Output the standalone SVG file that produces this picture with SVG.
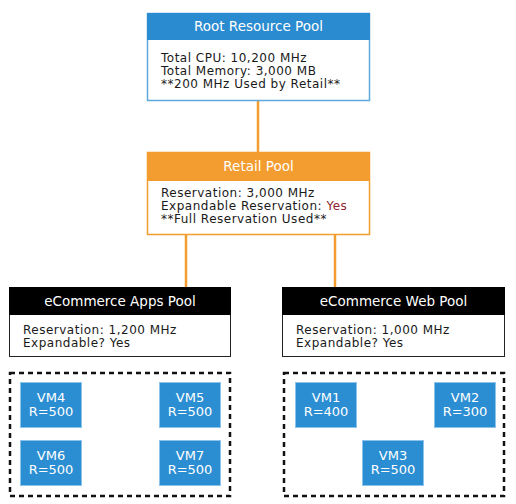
<svg xmlns="http://www.w3.org/2000/svg" width="516" height="504" viewBox="0 0 516 504">
<style>
text { font-family: "DejaVu Sans", "Liberation Sans", sans-serif; }
.hdr { font-size: 13.5px; fill: #ffffff; text-anchor: middle; }
.body { font-size: 12px; letter-spacing: 0.5px; fill: #1a1a1a; }
.vm { font-size: 13px; fill: #ffffff; text-anchor: middle; }
.conn { stroke: #F39C2F; stroke-width: 2.5; fill: none; }
.dash { stroke: #111; stroke-width: 2.5; fill: none; stroke-dasharray: 5 4; }
.vmbox { fill: #2B8ED2; stroke: #8CC3EA; stroke-width: 1; }
</style>
<rect width="516" height="504" fill="#ffffff"/>
<g id="connectors">
<line class="conn" x1="258" y1="100" x2="258" y2="153"/>
<line class="conn" x1="186" y1="235" x2="186" y2="288"/>
<line class="conn" x1="335" y1="235" x2="335" y2="288"/>
</g>
<g id="root">
<rect x="147.5" y="13.5" width="222" height="87" fill="#ffffff" stroke="#5FA8DE" stroke-width="1.5"/>
<rect x="147" y="13" width="223" height="27" fill="#2A8BD0"/>
<text class="hdr" x="258.5" y="31">Root Resource Pool</text>
<text class="body" x="161" y="62">Total CPU: 10,200 MHz</text>
<text class="body" x="161" y="75">Total Memory: 3,000 MB</text>
<text class="body" x="161" y="88">**200 MHz Used by Retail**</text>
</g>
<g id="retail">
<rect x="147.5" y="152.5" width="222" height="82" fill="#ffffff" stroke="#F39C2F" stroke-width="1.5"/>
<rect x="147" y="152" width="223" height="29" fill="#F39C2F"/>
<text class="hdr" x="258.5" y="171">Retail Pool</text>
<text class="body" x="161" y="197">Reservation: 3,000 MHz</text>
<text class="body" x="161" y="210">Expandable Reservation: <tspan fill="#8E1F2F">Yes</tspan></text>
<text class="body" x="161" y="223">**Full Reservation Used**</text>
</g>
<g id="apps-pool">
<rect x="9.5" y="287.5" width="221" height="69" fill="#ffffff" stroke="#222" stroke-width="1"/>
<rect x="9" y="287" width="222" height="28" fill="#000000"/>
<text class="hdr" x="120" y="306">eCommerce Apps Pool</text>
<text class="body" x="23" y="334">Reservation: 1,200 MHz</text>
<text class="body" x="23" y="347">Expandable? Yes</text>
</g>
<g id="web-pool">
<rect x="282.5" y="287.5" width="222" height="69" fill="#ffffff" stroke="#222" stroke-width="1"/>
<rect x="282" y="287" width="223" height="28" fill="#000000"/>
<text class="hdr" x="393.5" y="306">eCommerce Web Pool</text>
<text class="body" x="296" y="334">Reservation: 1,000 MHz</text>
<text class="body" x="296" y="347">Expandable? Yes</text>
</g>
<g id="apps-vms">
<rect class="dash" x="10" y="373" width="220" height="123"/>
</g>
<g id="web-vms">
<rect class="dash" x="284" y="373" width="220" height="123"/>
</g>
<g id="vm4">
<rect class="vmbox" x="20.5" y="382.5" width="61" height="45"/>
<text class="vm" x="51" y="402">VM4</text>
<text class="vm" x="51" y="416">R=500</text>
</g>
<g id="vm5">
<rect class="vmbox" x="159.5" y="382.5" width="61" height="45"/>
<text class="vm" x="190" y="402">VM5</text>
<text class="vm" x="190" y="416">R=500</text>
</g>
<g id="vm6">
<rect class="vmbox" x="20.5" y="440.5" width="61" height="45"/>
<text class="vm" x="51" y="460">VM6</text>
<text class="vm" x="51" y="474">R=500</text>
</g>
<g id="vm7">
<rect class="vmbox" x="159.5" y="440.5" width="61" height="45"/>
<text class="vm" x="190" y="460">VM7</text>
<text class="vm" x="190" y="474">R=500</text>
</g>
<g id="vm1">
<rect class="vmbox" x="295.5" y="382.5" width="61" height="45"/>
<text class="vm" x="326" y="402">VM1</text>
<text class="vm" x="326" y="416">R=400</text>
</g>
<g id="vm2">
<rect class="vmbox" x="434.5" y="382.5" width="61" height="45"/>
<text class="vm" x="465" y="402">VM2</text>
<text class="vm" x="465" y="416">R=300</text>
</g>
<g id="vm3">
<rect class="vmbox" x="362.5" y="440.5" width="61" height="45"/>
<text class="vm" x="393" y="460">VM3</text>
<text class="vm" x="393" y="474">R=500</text>
</g>
</svg>
